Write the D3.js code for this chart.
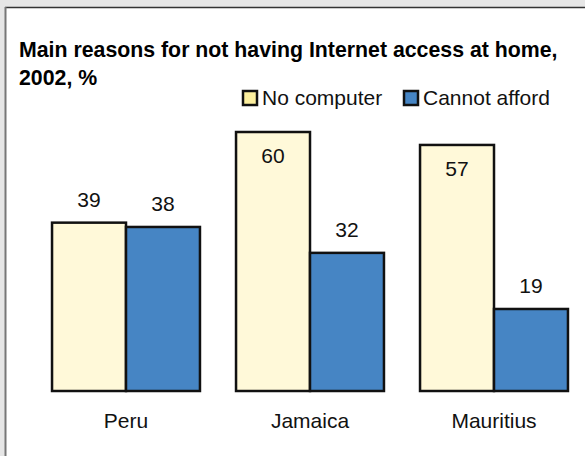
<!DOCTYPE html>
<html>
<head>
<meta charset="utf-8">
<script src="https://cdn.jsdelivr.net/npm/d3@7"></script>
<style>
  html, body { margin: 0; padding: 0; background: #e6e6e6; }
  svg { display: block; font-family: "Liberation Sans", Arial, sans-serif; }
</style>
</head>
<body>
<div id="chart"></div>
<script>
const countries = ["Peru", "Jamaica", "Mauritius"];
const seriesNames = ["No computer", "Cannot afford"];
const noComputer = [39, 60, 57];
const cannotAfford = [38, 32, 19];

const width = 585;
const height = 456;
const baseline = 391;

const barColors = ["#fff9d9", "#4685c4"];
const legendColors = ["#fcef9e", "#4685c4"];

const svg = d3
  .select("#chart")
  .append("svg")
  .attr("width", width)
  .attr("height", height);

// panel
svg
  .append("rect")
  .attr("x", 6)
  .attr("y", 8)
  .attr("width", width + 10)
  .attr("height", height + 10)
  .attr("fill", "#ffffff");
svg
  .append("line")
  .attr("x1", 5)
  .attr("x2", width)
  .attr("y1", 7.5)
  .attr("y2", 7.5)
  .attr("stroke", "#333")
  .attr("stroke-width", 1.5);
svg
  .append("line")
  .attr("x1", 5.5)
  .attr("x2", 5.5)
  .attr("y1", 7)
  .attr("y2", height)
  .attr("stroke", "#777")
  .attr("stroke-width", 2);

// title
const title = svg
  .append("text")
  .attr("x", 19)
  .attr("y", 57)
  .style("font-size", "21.3px")
  .style("font-weight", "bold")
  .attr("fill", "#000");
title.append("tspan").attr("x", 19).text("Main reasons for not having Internet access at home,");
title.append("tspan").attr("x", 19).attr("dy", 28).text("2002, %");

// scales
const x0 = d3
  .scaleBand()
  .domain(countries)
  .range([34, 586])
  .paddingInner(0.196)
  .paddingOuter(0.098);

const x1 = d3
  .scaleBand()
  .domain(seriesNames)
  .range([0, x0.bandwidth()]);

const y = d3.scaleLinear().domain([0, 60]).range([baseline, 132]);

const rows = countries.map((c, i) => ({
  country: c,
  values: [
    { series: seriesNames[0], value: noComputer[i] },
    { series: seriesNames[1], value: cannotAfford[i] },
  ],
}));

const groups = svg
  .selectAll("g.group")
  .data(rows)
  .join("g")
  .attr("class", "group")
  .attr("transform", (d) => `translate(${x0(d.country)},0)`);

groups
  .selectAll("rect")
  .data((d) => d.values)
  .join("rect")
  .attr("x", (d) => x1(d.series))
  .attr("y", (d) => y(d.value))
  .attr("width", x1.bandwidth())
  .attr("height", (d) => baseline - y(d.value))
  .attr("fill", (d, i) => barColors[i])
  .attr("stroke", "#111")
  .attr("stroke-width", 2.5);

// value labels: inside the bar when it reaches near the legend
groups
  .selectAll("text.val")
  .data((d) => d.values)
  .join("text")
  .attr("class", "val")
  .attr("x", (d) => x1(d.series) + x1.bandwidth() / 2)
  .attr("y", (d) => (d.value > 50 ? y(d.value) + 31 : y(d.value) - 16))
  .attr("text-anchor", "middle")
  .style("font-size", "21px")
  .attr("fill", "#111")
  .text((d) => d.value);

// category labels
svg
  .selectAll("text.cat")
  .data(countries)
  .join("text")
  .attr("class", "cat")
  .attr("x", (d) => x0(d) + x0.bandwidth() / 2)
  .attr("y", 428)
  .attr("text-anchor", "middle")
  .style("font-size", "21px")
  .attr("fill", "#111")
  .text((d) => d);

// legend
const legendX = [242, 403];
const legend = svg
  .selectAll("g.legend")
  .data(seriesNames)
  .join("g")
  .attr("class", "legend")
  .attr("transform", (d, i) => `translate(${legendX[i]},90)`);

legend
  .append("rect")
  .attr("x", 1)
  .attr("y", 1)
  .attr("width", 14)
  .attr("height", 14)
  .attr("fill", (d, i) => legendColors[i])
  .attr("stroke", "#111")
  .attr("stroke-width", 2.5);

legend
  .append("text")
  .attr("x", 20)
  .attr("y", 15)
  .style("font-size", "21px")
  .attr("fill", "#111")
  .text((d) => d);
</script>
</body>
</html>
